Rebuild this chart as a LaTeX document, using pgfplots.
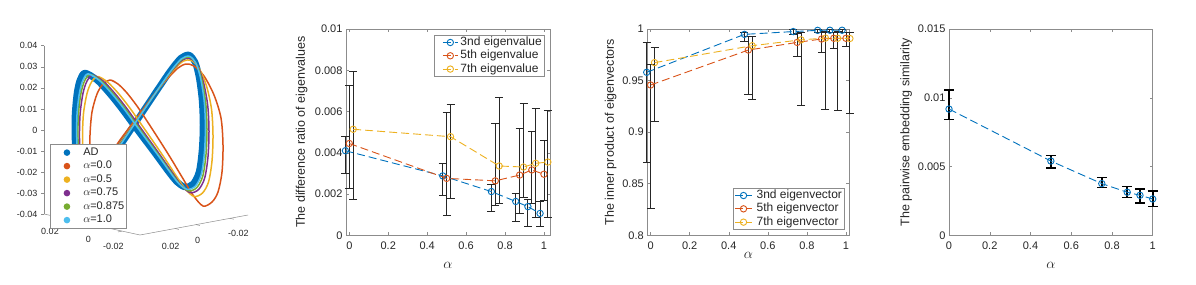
\documentclass[border=0pt]{standalone}
\usepackage{pgfplots}
\pgfplotsset{compat=1.18}
\usepackage{pgfplotstable}
\usepackage{fontspec}
\setmainfont{Liberation Sans}
\definecolor{mBlue}{HTML}{0072BD}
\definecolor{mRed}{HTML}{D95319}
\definecolor{mYellow}{HTML}{EDB120}
\definecolor{mPurple}{HTML}{7E2F8E}
\definecolor{mGreen}{HTML}{77AC30}
\definecolor{mCyan}{HTML}{4DBEEE}
\definecolor{axgray}{gray}{0.55}
\definecolor{txt}{gray}{0.15}

% panel 2 (values in units of 1e-3)
\pgfplotstableread{
x y up lo
-0.02 4.10 4.78 3.00
0.48 2.88 3.49 1.95
0.73 2.12 2.46 1.14
0.855 1.64 2.04 0.65
0.9175 1.39 1.76 0.42
0.98 1.06 1.66 0.42
}\evthree
\pgfplotstableread{
x y up lo
0 4.45 7.25 2.28
0.5 2.76 5.95 0.94
0.75 2.64 5.43 1.47
0.875 2.92 5.19 1.05
0.9375 3.17 5.02 1.55
1.0 2.96 4.62 1.71
}\evfive
\pgfplotstableread{
x y up lo
0.02 5.14 7.93 1.74
0.52 4.78 6.32 1.79
0.77 3.36 6.67 1.52
0.895 3.31 6.38 1.83
0.9575 3.49 6.15 0.85
1.02 3.55 6.07 0.87
}\evseven
% panel 3
\pgfplotstableread{
x y up lo
-0.02 0.958 0.987 0.871
0.48 0.9948 0.9968 0.9877
0.73 0.9975 0.9993 0.9952
0.855 0.9987 0.9998 0.9965
0.9175 0.9988 0.9998 0.9968
0.98 0.9988 0.9998 0.9968
}\vecthree
\pgfplotstableread{
x y up lo
0 0.9457 0.966 0.826
0.5 0.9796 0.993 0.937
0.75 0.9870 0.996 0.9732
0.875 0.9903 0.997 0.9774
0.9375 0.9910 0.997 0.981
1.0 0.9910 0.997 0.983
}\vecfive
\pgfplotstableread{
x y up lo
0.02 0.9674 0.982 0.910
0.52 0.9838 0.993 0.932
0.77 0.9895 0.997 0.9257
0.895 0.9912 0.998 0.922
0.9575 0.9910 0.998 0.9208
1.02 0.9908 0.997 0.918
}\vecseven
% panel 4 (units of 1e-3)
\pgfplotstableread{
x y up lo
0 9.18 10.56 8.43
0.5 5.40 5.79 4.89
0.75 3.76 4.19 3.47
0.875 3.13 3.56 2.76
0.9375 2.91 3.37 2.37
1 2.64 3.22 2.08
}\pairsim

\pgfplotsset{
  mbox/.style={
    scale only axis,
    axis line style={draw=axgray, line width=0.5pt},
    tick style={draw=axgray, line width=0.5pt},
    tick align=inside,
    major tick length=3pt,
    ticklabel style={font=\fontsize{11}{13}\selectfont, text=txt},
    xticklabel style={yshift=-3pt},
    label style={font=\fontsize{12.5}{14}\selectfont, text=txt},
    xlabel style={font=\fontsize{15}{17}\selectfont},
    xtick={0,0.2,0.4,0.6,0.8,1},
    xticklabels={0,0.2,0.4,0.6,0.8,1},
    xlabel={$\alpha$},
    clip=false,
  },
  ebar/.style={forget plot, draw=none, mark=none,
    error bars/.cd, y dir=both, y explicit,
    error bar style={draw=black!85, solid, line width=0.9pt},
    error mark options={rotate=90, mark size=4pt, draw=black!85, line width=0.9pt}},
  ser/.style={#1, line width=0.9pt, dash pattern=on 8pt off 4pt, mark=o, mark size=3.2pt, mark options={solid, line width=0.9pt}},
}

\begin{document}
\begin{tikzpicture}
\useasboundingbox (0,0) rectangle (1196pt,-284pt);

% ---------------- Panel 1 ----------------
\begin{axis}[
  scale only axis, width=206pt, height=168.3pt,
  at={(44pt,-45.7pt)}, anchor=north west,
  xmin=44, xmax=250, ymin=45.7, ymax=214, y dir=reverse,
  axis x line=none, axis y line=left,
  axis line style={-, draw=axgray, line width=0.5pt},
  tick style={draw=axgray, line width=0.5pt},
  ytick={45.7,66.8,87.8,108.9,129.9,150.9,172.0,193.0,214.0},
  yticklabels={0.04,0.03,0.02,0.01,0,-0.01,-0.02,-0.03,-0.04},
  ticklabel style={font=\fontsize{9}{11}\selectfont, text=txt},
  tick align=outside, major tick length=3pt,
  clip=false,
  legend image code/.code={\path[draw=none, fill=none] (0pt,0pt) -- (31pt,0pt); \fill[draw=none] (16.7pt,0pt) circle (3.3pt);},
  legend style={at={(axis cs:50,144)}, anchor=north west, draw=axgray, fill=white,
    line width=0.5pt, inner xsep=0pt, inner ysep=1.6pt, row sep=0pt, column sep=0pt,
    font=\fontsize{11}{13}\selectfont, text=txt,
    nodes={inner xsep=2pt, inner ysep=1.5pt, text height=8pt, text depth=2.5pt}},
  legend cell align=left,
]
\draw[axgray, line width=0.5pt] (axis cs:44,214) -- (axis cs:140,235) -- (axis cs:248,215);
\draw[axgray, line width=0.5pt] (axis cs:57.7,217.0) -- (axis cs:53.7,217.8)
  (axis cs:89,223.8) -- (axis cs:85,224.6) (axis cs:122,231.1) -- (axis cs:118,231.9)
  (axis cs:175,228.5) -- (axis cs:178.9,229.4) (axis cs:196,224.6) -- (axis cs:199.9,225.5)
  (axis cs:230,218.3) -- (axis cs:233.9,219.2);
\begin{scope}[font=\fontsize{9}{11}\selectfont, text=txt]
\node at (axis cs:50,231.7) {0.02};
\node at (axis cs:88.3,239.3) {0};
\node at (axis cs:113.3,246) {-0.02};
\node at (axis cs:170.7,246) {0.02};
\node at (axis cs:197.7,240) {0};
\node at (axis cs:238.3,233.3) {-0.02};
\end{scope}

\addplot[color=mBlue, line width=6.5pt, smooth, line join=round] coordinates {
(80,80) (85,73) (97,80) (110,94) (122,109) (133,124) (145,140) (157,156) (168,171) (177,182) (185,187) (193,184) (199,172) (202,150) (203,125) (202,100) (199,77) (195,62) (189,55) (181,58) (171,70) (160,86) (148,104) (136,122) (124,140) (112,158) (100,175) (90,185) (82,180) (77,163) (75,140) (75,115) (77,93) (80,80) (85,73) (97,80)};
\addlegendentry{AD}
\addplot[color=mRed, line width=1.5pt, smooth, line join=round] coordinates {
(103,84) (110,80) (118,84) (127,93) (137,106) (147,121) (158,138) (170,157) (182,177) (193,195) (203,206) (212,202) (218,192) (222,172) (223,145) (221,118) (214,95) (204,76) (194,66) (186,64) (178,68) (168,78) (156,92) (144,108) (132,124) (120,140) (110,155) (100,170) (93,172) (90,158) (90,135) (92,112) (97,94) (103,84) (110,80) (118,84)};
\addlegendentry{$\alpha$=0.0}
\addplot[color=mYellow, line width=1.5pt, smooth, line join=round] coordinates {
(91.5,82) (97.5,76.5) (107.5,82) (118.5,93.5) (129.5,107.5) (140,122.5) (151.5,139) (163.5,156.5) (175,174) (185,188.5) (194,196.5) (202.5,193) (208.5,182) (212,161) (213,135) (211.5,109) (206.5,86) (199.5,69) (191.5,60.5) (183.5,61) (174.5,69) (164,82) (152,98) (140,115) (128,132) (116,149) (105,165) (95,177.5) (87.5,176) (83.5,160.5) (82.5,137.5) (83.5,113.5) (87,93.5) (91.5,82) (97.5,76.5) (107.5,82)};
\addlegendentry{$\alpha$=0.5}
\addplot[color=mPurple, line width=1.5pt, smooth, line join=round] coordinates {
(86.9,81.2) (92.5,75.1) (103.3,81.2) (115.1,93.7) (126.5,108.1) (137.2,123.1) (148.9,139.4) (160.9,156.3) (172.2,172.8) (181.8,185.9) (190.4,192.7) (198.7,189.4) (204.7,178) (208,156.6) (209,131) (207.7,105.4) (203.5,82.4) (197.7,66.2) (190.5,58.3) (182.5,59.8) (173.1,69.4) (162.4,83.6) (150.4,100.4) (138.4,117.8) (126.4,135.2) (114.4,152.6) (103,169) (93,180.5) (85.3,177.6) (80.9,161.5) (79.5,138.5) (80.1,114.1) (83,93.3) (86.9,81.2) (92.5,75.1) (103.3,81.2)};
\addlegendentry{$\alpha$=0.75}
\addplot[color=mGreen, line width=1.5pt, smooth, line join=round] coordinates {
(84.6,80.8) (90,74.4) (101.2,80.8) (113.4,93.8) (125,108.4) (135.8,123.4) (147.6,139.6) (159.6,156.2) (170.8,172.2) (180.2,184.6) (188.6,190.8) (196.8,187.6) (202.8,176) (206,154.4) (207,129) (205.8,103.6) (202,80.6) (196.8,64.8) (190,57.2) (182,59.2) (172.4,69.6) (161.6,84.4) (149.6,101.6) (137.6,119.2) (125.6,136.8) (113.6,154.4) (102,171) (92,182) (84.2,178.4) (79.6,162) (78,139) (78.4,114.4) (81,93.2) (84.6,80.8) (90,74.4) (101.2,80.8)};
\addlegendentry{$\alpha$=0.875}
\addplot[color=mCyan, line width=1.5pt, smooth, line join=round] coordinates {
(82.8,80.5) (88,73.8) (99.5,80.5) (112,93.9) (123.8,108.6) (134.7,123.6) (146.6,139.8) (158.6,156.1) (169.7,171.7) (178.9,183.6) (187.2,189.3) (195.3,186.2) (201.3,174.4) (204.4,152.6) (205.4,127.4) (204.3,102.2) (200.8,79.2) (196.1,63.7) (189.6,56.3) (181.6,58.7) (171.8,69.8) (161,85) (149,102.6) (137,120.3) (125,138.1) (113,155.8) (101.2,172.6) (91.2,183.2) (83.3,179) (78.6,162.4) (76.8,139.4) (77,114.6) (79.4,93.1) (82.8,80.5) (88,73.8) (99.5,80.5)};
\addlegendentry{$\alpha$=1.0}
\end{axis}

% ---------------- Panel 2 ----------------
\begin{axis}[mbox,
  width=204pt, height=206.3pt, at={(346pt,-29pt)}, anchor=north west,
  xmin=-0.017, xmax=1.031, ymin=0, ymax=10,
  ytick={0,2,4,6,8,10}, yticklabels={0,0.002,0.004,0.006,0.008,0.01},
  ylabel={The difference ratio of eigenvalues},
  ylabel style={at={(axis description cs:-0.217,0.5)}, anchor=center},
  xlabel style={at={(axis description cs:0.5,-0.144)}, anchor=center},
  legend image code/.code={\path[draw=none] (0pt,0pt) -- (24pt,0pt); \draw[mark repeat=2, mark phase=2] plot coordinates {(8.4pt,0pt) (15.9pt,0pt) (23.4pt,0pt)};},
  legend style={at={(axis description cs:0.971,0.971)}, anchor=north east, draw=axgray, fill=white,
    line width=0.5pt, inner xsep=0pt, inner ysep=0.6pt, row sep=0pt, column sep=0pt,
    font=\fontsize{12}{14}\selectfont, text=txt,
    nodes={inner xsep=2pt, inner ysep=1pt, text height=8.8pt, text depth=2.5pt}},
  legend cell align=left,
]
\addplot[ebar] table[x=x, y=y, y error plus expr=\thisrow{up}-\thisrow{y}, y error minus expr=\thisrow{y}-\thisrow{lo}] {\evthree};
\addplot[ebar] table[x=x, y=y, y error plus expr=\thisrow{up}-\thisrow{y}, y error minus expr=\thisrow{y}-\thisrow{lo}] {\evfive};
\addplot[ebar] table[x=x, y=y, y error plus expr=\thisrow{up}-\thisrow{y}, y error minus expr=\thisrow{y}-\thisrow{lo}] {\evseven};
\addplot[ser=mBlue] table[x=x, y=y] {\evthree};
\addlegendentry{3nd eigenvalue}
\addplot[ser=mRed] table[x=x, y=y] {\evfive};
\addlegendentry{5th eigenvalue}
\addplot[ser=mYellow] table[x=x, y=y] {\evseven};
\addlegendentry{7th eigenvalue}
\end{axis}

% ---------------- Panel 3 ----------------
\begin{axis}[mbox,
  width=202pt, height=206.3pt, at={(647.3pt,-29pt)}, anchor=north west,
  xmin=-0.017, xmax=1.017, ymin=0.8, ymax=1,
  ytick={0.8,0.85,0.9,0.95,1}, yticklabels={0.8,0.85,0.9,0.95,1},
  ylabel={The inner product of eigenvectors},
  ylabel style={at={(axis description cs:-0.181,0.5)}, anchor=center},
  xlabel style={at={(axis description cs:0.5,-0.095)}, anchor=center},
  legend image code/.code={\path[draw=none] (0pt,0pt) -- (21.7pt,0pt); \draw[mark repeat=2, mark phase=2] plot coordinates {(2.3pt,0pt) (10.6pt,0pt) (19pt,0pt)};},
  legend style={at={(axis description cs:0.975,0.026)}, anchor=south east, draw=axgray, fill=white,
    line width=0.5pt, inner xsep=0pt, inner ysep=0.9pt, row sep=0pt, column sep=0pt,
    font=\fontsize{12}{14}\selectfont, text=txt,
    nodes={inner xsep=2pt, inner ysep=1pt, text height=8.8pt, text depth=2.5pt}},
  legend cell align=left,
]
\addplot[ebar] table[x=x, y=y, y error plus expr=\thisrow{up}-\thisrow{y}, y error minus expr=\thisrow{y}-\thisrow{lo}] {\vecthree};
\addplot[ebar] table[x=x, y=y, y error plus expr=\thisrow{up}-\thisrow{y}, y error minus expr=\thisrow{y}-\thisrow{lo}] {\vecfive};
\addplot[ebar] table[x=x, y=y, y error plus expr=\thisrow{up}-\thisrow{y}, y error minus expr=\thisrow{y}-\thisrow{lo}] {\vecseven};
\addplot[ser=mBlue] table[x=x, y=y] {\vecthree};
\addlegendentry{3nd eigenvector}
\addplot[ser=mRed] table[x=x, y=y] {\vecfive};
\addlegendentry{5th eigenvector}
\addplot[ser=mYellow] table[x=x, y=y] {\vecseven};
\addlegendentry{7th eigenvector}
\end{axis}

% ---------------- Panel 4 ----------------
\begin{axis}[mbox,
  width=203.7pt, height=206.3pt, at={(949pt,-29pt)}, anchor=north west,
  xmin=0, xmax=1, ymin=0, ymax=15,
  ytick={0,5,10,15}, yticklabels={0,0.005,0.01,0.015},
  ylabel={The pairwise embedding similarity},
  ylabel style={at={(axis description cs:-0.211,0.5)}, anchor=center},
  xlabel style={at={(axis description cs:0.5,-0.144)}, anchor=center},
]
\addplot[forget plot, draw=none, mark=none,
    error bars/.cd, y dir=both, y explicit,
    error bar style={draw=black, solid, line width=1.6pt},
    error mark options={rotate=90, mark size=5pt, draw=black, line width=1.6pt}]
  table[x=x, y=y, y error plus expr=\thisrow{up}-\thisrow{y}, y error minus expr=\thisrow{y}-\thisrow{lo}] {\pairsim};
\addplot[ser=mBlue] table[x=x, y=y] {\pairsim};
\end{axis}
\end{tikzpicture}
\end{document}
